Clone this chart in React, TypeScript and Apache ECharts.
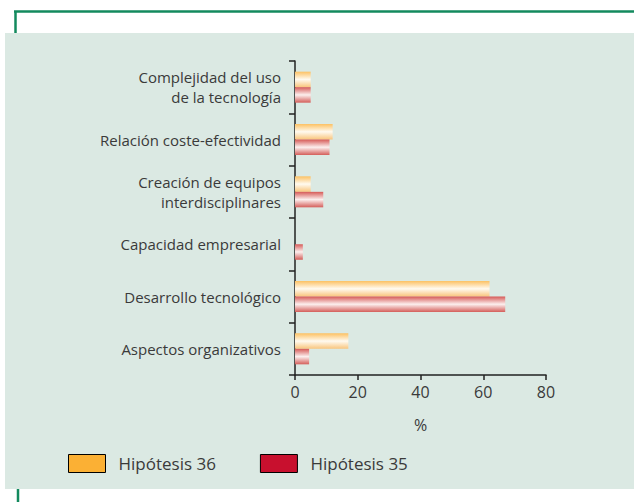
import React, { useEffect, useRef } from "react";
import * as echarts from "echarts";

const categories = [
  "Complejidad del uso\nde la tecnología",
  "Relación coste-efectividad",
  "Creación de equipos\ninterdisciplinares",
  "Capacidad empresarial",
  "Desarrollo tecnológico",
  "Aspectos organizativos",
];
const hip36 = [5, 12, 5, 0, 62, 17];
const hip35 = [5, 11, 9, 2.5, 67, 4.5];
const xTicks = [0, 20, 40, 60, 80];

const FONT = "'Open Sans', Lato, sans-serif";

export default function App() {
  const ref = useRef<HTMLDivElement>(null);
  useEffect(() => {
    if (!ref.current) return;
    const chart = echarts.init(ref.current, undefined, { renderer: "svg" });
    const orangeGrad = new echarts.graphic.LinearGradient(0, 0, 0, 1, [
      { offset: 0, color: "#fcc163" },
      { offset: 0.5, color: "#fffaf0" },
      { offset: 1, color: "#f9c57c" },
    ]);
    const redGrad = new echarts.graphic.LinearGradient(0, 0, 0, 1, [
      { offset: 0, color: "#d65a57" },
      { offset: 0.5, color: "#fcefee" },
      { offset: 1, color: "#d45e5a" },
    ]);
    chart.setOption({
      animation: false,
      backgroundColor: "#ffffff",
      textStyle: { fontFamily: FONT },
      graphic: [
        { type: "rect", z: -10, shape: { x: 5, y: 33, width: 629, height: 456 }, style: { fill: "#dbe9e3" } },
        { type: "line", shape: { x1: 14, y1: 11.5, x2: 634, y2: 11.5 }, style: { stroke: "#138a5e", lineWidth: 2.5 } },
        { type: "line", shape: { x1: 15.5, y1: 11, x2: 15.5, y2: 33 }, style: { stroke: "#138a5e", lineWidth: 2.5 } },
        { type: "line", shape: { x1: 18, y1: 489, x2: 18, y2: 502 }, style: { stroke: "#138a5e", lineWidth: 2.5 } },
      ],
      grid: { left: 295, right: 88, top: 61, bottom: 127, containLabel: false },
      legend: {
        left: 63,
        top: 449,
        itemWidth: 37,
        itemHeight: 18,
        itemGap: 44,
        textStyle: { fontSize: 17, color: "#3a3a3a", fontFamily: FONT, padding: [0, 0, 0, 8] },
        data: [
          { name: "Hipótesis 36", icon: "rect", itemStyle: { color: "#fbb034", borderColor: "#000", borderWidth: 1 } },
          { name: "Hipótesis 35", icon: "rect", itemStyle: { color: "#c8102e", borderColor: "#000", borderWidth: 1 } },
        ],
      },
      xAxis: {
        type: "value",
        min: xTicks[0],
        max: xTicks[xTicks.length - 1],
        interval: 20,
        name: "%",
        nameLocation: "middle",
        nameGap: 42,
        nameTextStyle: { fontSize: 16, color: "#3a3a3a", fontFamily: FONT },
        axisLine: { show: true, lineStyle: { color: "#222", width: 1.5 } },
        axisTick: { show: true, length: 5, lineStyle: { color: "#222", width: 1.5 } },
        axisLabel: { fontSize: 16, color: "#3a3a3a", margin: 9, fontFamily: FONT },
        splitLine: { show: false },
      },
      yAxis: {
        type: "category",
        inverse: true,
        data: categories,
        axisLine: { show: true, lineStyle: { color: "#222", width: 1.5 } },
        axisTick: { show: true, length: 6, lineStyle: { color: "#222", width: 1.5 } },
        axisLabel: { fontSize: 15, color: "#3a3a3a", margin: 14, lineHeight: 20.5, align: "right", fontFamily: FONT },
      },
      series: [
        {
          name: "Hipótesis 36",
          type: "bar",
          data: hip36,
          barWidth: 15.5,
          barGap: "0%",
          itemStyle: { color: orangeGrad },
        },
        {
          name: "Hipótesis 35",
          type: "bar",
          data: hip35,
          barWidth: 15.5,
          barGap: "0%",
          itemStyle: { color: redGrad },
        },
      ],
    });
    return () => chart.dispose();
  }, []);
  return (
    <div
      ref={ref}
      style={{ position: "fixed", left: 0, top: 0, width: 634, height: 502 }}
    />
  );
}
